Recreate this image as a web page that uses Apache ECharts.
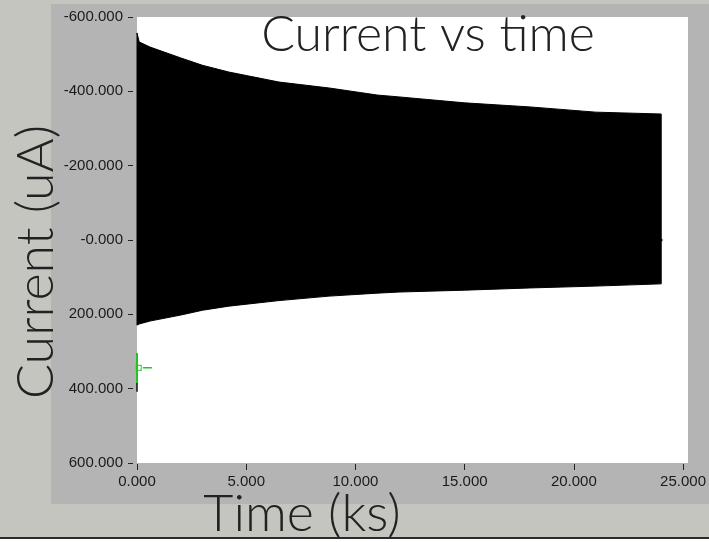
<!DOCTYPE html>
<html>
<head>
<meta charset="utf-8">
<title>Current vs time</title>
<script src="https://cdn.jsdelivr.net/npm/echarts@6/dist/echarts.min.js"></script>
<style>
  html, body { margin: 0; padding: 0; background: #c4c5bf; }
  #chart { width: 709px; height: 542px; }
</style>
</head>
<body>
<div id="chart"></div>
<script>
// Envelope of the oscillating current (uA) over time (ks)
const timeKs        = [0, 0.1, 0.6, 2, 3, 4.2, 6.5, 8.8, 11, 12, 15, 18, 21, 24];
const upperEnvelope = [-557, -533, -519, -490, -470, -452, -425, -409, -390, -385, -369, -358, -344, -339];
const lowerEnvelope = [229, 226, 218, 202, 189, 178, 163, 151, 143, 140, 135, 129, 124, 118];

// Last recorded sample
const finalPoint = [24, 0];

// Cursor marker at the start of the record
const cursorLine = [[0, 304], [0, 385]];
const cursorTail = [[0, 385], [0, 408]];
const cursorDot  = [[0.08, 344]];
const cursorDash = [[0.27, 344], [0.68, 344]];

// Axis ticks and labels
const xTicks = [0, 5, 10, 15, 20, 25];
const xTickLabels = ['0.000', '5.000', '10.000', '15.000', '20.000', '25.000'];
const yTicks = [-600, -400, -200, 0, 200, 400, 600];
const yTickLabels = ['-600.000', '-400.000', '-200.000', '-0.000', '200.000', '400.000', '600.000'];

const tickFont = { fontFamily: 'Liberation Sans, Arial, sans-serif', fontSize: 15, color: '#1a1a1a' };
const titleFont = "300 50px Lato, 'Open Sans', sans-serif";
const axisTitleFont = "300 52px Lato, 'Open Sans', sans-serif";

const chart = echarts.init(document.getElementById('chart'), null, { renderer: 'canvas' });

// Filled band between the two envelopes, placed through the axes' scales
function renderBand(params, api) {
  const pts = [];
  for (let i = 0; i < timeKs.length; i++) pts.push(api.coord([timeKs[i], upperEnvelope[i]]));
  for (let i = timeKs.length - 1; i >= 0; i--) pts.push(api.coord([timeKs[i], lowerEnvelope[i]]));
  return {
    type: 'polygon',
    shape: { points: pts },
    style: { fill: '#000', stroke: '#000', lineWidth: 1 }
  };
}

chart.setOption({
  animation: false,
  graphic: [
    { type: 'rect', z: -100, shape: { x: 0, y: 0, width: 709, height: 537 }, style: { fill: '#c4c5bf' } },
    { type: 'rect', z: -100, shape: { x: 0, y: 537, width: 709, height: 2 }, style: { fill: '#2b2b2b' } },
    { type: 'rect', z: -100, shape: { x: 0, y: 539, width: 709, height: 3 }, style: { fill: '#ffffff' } },
    { type: 'rect', z: -90, shape: { x: 51, y: 4, width: 658, height: 500 }, style: { fill: '#b4b4b4' } },
    { type: 'rect', z: -80, shape: { x: 137, y: 17, width: 551, height: 446 }, style: { fill: '#ffffff' } },
    { type: 'text', z: 10, x: 428, y: 35,
      style: { text: 'Current vs time', font: titleFont, fill: '#222',
               textAlign: 'center', textVerticalAlign: 'middle', align: 'center', verticalAlign: 'middle' } },
    { type: 'text', z: 10, x: 302, y: 514,
      style: { text: 'Time (ks)', font: axisTitleFont, fill: '#222',
               textAlign: 'center', textVerticalAlign: 'middle', align: 'center', verticalAlign: 'middle' } },
    { type: 'text', z: 10, x: 36, y: 262, rotation: Math.PI / 2,
      style: { text: 'Current (uA)', font: axisTitleFont, fill: '#222',
               textAlign: 'center', textVerticalAlign: 'middle', align: 'center', verticalAlign: 'middle' } }
  ],
  grid: { left: 137, top: 17, width: 549, height: 446, show: false },
  xAxis: {
    type: 'value', min: 0, max: 25, interval: 5, offset: 1,
    axisLine: { show: false, onZero: false },
    axisTick: { show: true, inside: false, length: 6, lineStyle: { color: '#222', width: 1 } },
    axisLabel: Object.assign({ margin: 10, formatter: v => xTickLabels[xTicks.indexOf(v)] }, tickFont),
    splitLine: { show: false }
  },
  yAxis: {
    type: 'value', inverse: true, min: -600, max: 600, interval: 200, offset: 4,
    axisLine: { show: false, onZero: false },
    axisTick: { show: true, inside: false, length: 5, lineStyle: { color: '#222', width: 1 } },
    axisLabel: Object.assign({ margin: 10, formatter: v => yTickLabels[yTicks.indexOf(v)] }, tickFont),
    splitLine: { show: false }
  },
  series: [
    {
      name: 'current', type: 'custom', silent: true, z: 2,
      renderItem: renderBand,
      data: [0]
    },
    {
      name: 'final', type: 'scatter', symbol: 'circle', symbolSize: 3,
      itemStyle: { color: '#000' }, data: [finalPoint]
    },
    {
      name: 'cursor', type: 'line', symbol: 'none', z: 5,
      lineStyle: { color: '#22c522', width: 2 }, data: cursorLine
    },
    {
      name: 'cursorTail', type: 'line', symbol: 'none', z: 5,
      lineStyle: { color: '#111', width: 1.5 }, data: cursorTail
    },
    {
      name: 'cursorDash', type: 'line', symbol: 'none', z: 5,
      lineStyle: { color: '#22c522', width: 1.5 }, data: cursorDash
    },
    {
      name: 'cursorDot', type: 'scatter', symbol: 'rect', symbolSize: 5, z: 6,
      itemStyle: { color: 'rgba(0,0,0,0)', borderColor: '#22c522', borderWidth: 1.2 },
      data: cursorDot
    }
  ]
});
</script>
</body>
</html>
